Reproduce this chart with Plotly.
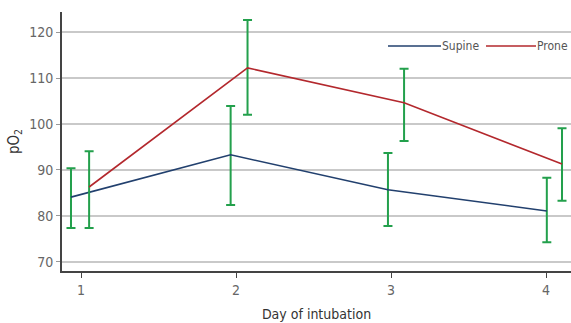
import plotly.graph_objects as go

days = [1, 2, 3, 4]
tick_labels = ["1", "2", "3", "4"]

supine_mean = [84.1, 93.3, 85.7, 81.1]
supine_upper = [90.4, 103.9, 93.7, 88.3]
supine_lower = [77.4, 82.4, 77.8, 74.3]

prone_mean = [86.3, 112.2, 104.6, 91.3]
prone_upper = [94.1, 122.6, 112.0, 99.1]
prone_lower = [77.4, 102.0, 96.3, 83.3]

# horizontal dodge of the two series around each day
supine_shift = [-0.065, -0.035, -0.02, 0.005]
prone_shift = [0.052, 0.074, 0.084, 0.103]

FONT = "DejaVu Sans Condensed, Liberation Sans Narrow, Roboto, sans-serif"
BLUE = "#22406e"
RED = "#b3282d"
GREEN = "#23a04c"

fig = go.Figure()

def add_series(name, mean, upper, lower, shift, color):
    x = [d + s for d, s in zip(days, shift)]
    fig.add_trace(go.Scatter(
        x=x, y=mean, mode="lines", name=name,
        line=dict(color=color, width=1.6),
        error_y=dict(type="data", symmetric=False,
                     array=[u - m for u, m in zip(upper, mean)],
                     arrayminus=[m - l for m, l in zip(mean, lower)],
                     color=GREEN, thickness=2, width=4.5),
        showlegend=False,
    ))

add_series("Supine", supine_mean, supine_upper, supine_lower, supine_shift, BLUE)
add_series("Prone", prone_mean, prone_upper, prone_lower, prone_shift, RED)

# manual legend
L, T, PW, PH = 62, 12, 509, 259
legend_items = [("Supine", BLUE, 388, 441, 442), ("Prone", RED, 486, 536, 537)]
W, H = 571, 323
shapes = []
annotations = []
ly = (T + PH - 46) / PH
for name, color, x0, x1, tx in legend_items:
    shapes.append(dict(type="line", xref="paper", yref="paper",
                       x0=(x0 - L) / PW, x1=(x1 - L) / PW, y0=ly, y1=ly,
                       line=dict(color=color, width=1.6)))
    annotations.append(dict(text=name, xref="paper", yref="paper",
                            x=(tx - L) / PW, y=ly, xshift=-2,
                            xanchor="left", yanchor="middle", showarrow=False,
                            font=dict(family=FONT, size=12, color="#555555")))

fig.update_layout(
    width=W, height=H,
    margin=dict(l=L, r=W - L - PW, t=T, b=H - T - PH),
    paper_bgcolor="white", plot_bgcolor="white",
    font=dict(family=FONT, size=14, color="#666666"),
    shapes=shapes, annotations=annotations,
    xaxis=dict(
        range=[0.877, 4.161], tickvals=days, ticktext=tick_labels,
        showgrid=False, zeroline=False,
        showline=True, linecolor="#444444", linewidth=2,
        ticks="outside", ticklen=5, tickcolor="#444444",
        tickfont=dict(family=FONT, size=14, color="#666666"),
        title=dict(text="Day of intubation", standoff=12,
                   font=dict(family=FONT, size=14, color="#333333")),
    ),
    yaxis=dict(
        range=[68.04, 124.35], tickvals=[70, 80, 90, 100, 110, 120],
        showgrid=True, gridcolor="#c9c9c9", gridwidth=1.6, zeroline=False,
        showline=True, linecolor="#444444", linewidth=2,
        ticks="outside", ticklen=4, tickcolor="#999999",
        tickfont=dict(family=FONT, size=14, color="#666666"),
        title=dict(text="pO<sub>2</sub>", standoff=6,
                   font=dict(family=FONT, size=15, color="#333333")),
    ),
)

fig.write_html("out.html", config={"displayModeBar": False},
               post_script="document.body.style.margin='0';")
